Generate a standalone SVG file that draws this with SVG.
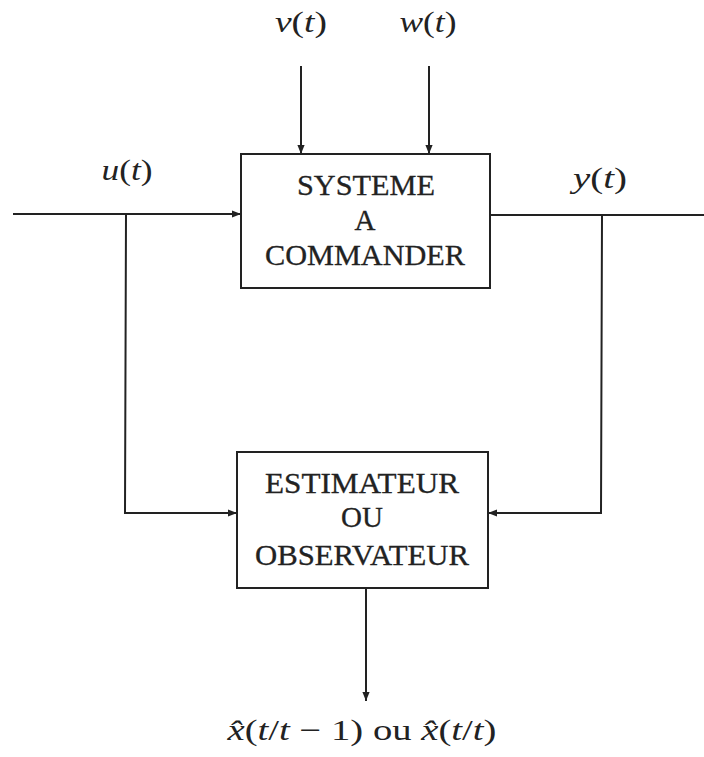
<svg xmlns="http://www.w3.org/2000/svg" width="704" height="757" viewBox="0 0 704 757">
<defs>
<marker id="ah" viewBox="0 0 10 10" refX="10" refY="5" markerWidth="9" markerHeight="9" markerUnits="userSpaceOnUse" orient="auto">
<path d="M0,1 L10,5 L0,9 Z" fill="#222"/>
</marker>
</defs>
<style>
.box{fill:#fff;stroke:#222;stroke-width:2}
.lbl{font-family:"Liberation Serif","DejaVu Serif",serif;font-size:29px;fill:#222;stroke:#222;stroke-width:0.3;text-anchor:middle}
.math{font-family:"Liberation Serif","DejaVu Serif",serif;font-size:30px;fill:#222;text-anchor:middle}
.it{font-style:italic}
.conn line,.conn polyline{stroke:#222;stroke-width:2;fill:none}
</style>
<rect width="704" height="757" fill="#fff"/>
<g class="conn">
<line x1="301" y1="66" x2="301" y2="154" marker-end="url(#ah)"/>
<line x1="429" y1="66" x2="429" y2="154" marker-end="url(#ah)"/>
<line x1="13" y1="214" x2="241" y2="214" marker-end="url(#ah)"/>
<line x1="490" y1="215" x2="704" y2="215"/>
<polyline points="126,214 125,513 237,513" marker-end="url(#ah)"/>
<polyline points="602,215 601,513 488,513" marker-end="url(#ah)"/>
<line x1="366" y1="588" x2="366" y2="701" marker-end="url(#ah)"/>
</g>
<g id="systeme">
<rect class="box" x="241" y="154" width="249" height="134"/>
<text class="lbl" x="366" y="195" textLength="138" lengthAdjust="spacingAndGlyphs">SYSTEME</text>
<text class="lbl" x="365" y="230">A</text>
<text class="lbl" x="365" y="265" textLength="200" lengthAdjust="spacingAndGlyphs">COMMANDER</text>
</g>
<g id="estimateur">
<rect class="box" x="237" y="452" width="251" height="136"/>
<text class="lbl" x="362" y="493" textLength="194" lengthAdjust="spacingAndGlyphs">ESTIMATEUR</text>
<text class="lbl" x="362" y="527">OU</text>
<text class="lbl" x="362" y="565" textLength="214" lengthAdjust="spacingAndGlyphs">OBSERVATEUR</text>
</g>
<g id="labels">
<text class="math" x="301" y="32" textLength="52" lengthAdjust="spacingAndGlyphs"><tspan class="it">v</tspan>(<tspan class="it">t</tspan>)</text>
<text class="math" x="428" y="32" textLength="57" lengthAdjust="spacingAndGlyphs"><tspan class="it">w</tspan>(<tspan class="it">t</tspan>)</text>
<text class="math" x="127" y="180" textLength="51" lengthAdjust="spacingAndGlyphs"><tspan class="it">u</tspan>(<tspan class="it">t</tspan>)</text>
<text class="math" x="600" y="188" textLength="54" lengthAdjust="spacingAndGlyphs"><tspan class="it">y</tspan>(<tspan class="it">t</tspan>)</text>
<text class="math" x="362" y="740" textLength="269" lengthAdjust="spacingAndGlyphs"><tspan class="it">x̂</tspan>(<tspan class="it">t</tspan>/<tspan class="it">t</tspan> − 1) ou <tspan class="it">x̂</tspan>(<tspan class="it">t</tspan>/<tspan class="it">t</tspan>)</text>
</g>
</svg>
